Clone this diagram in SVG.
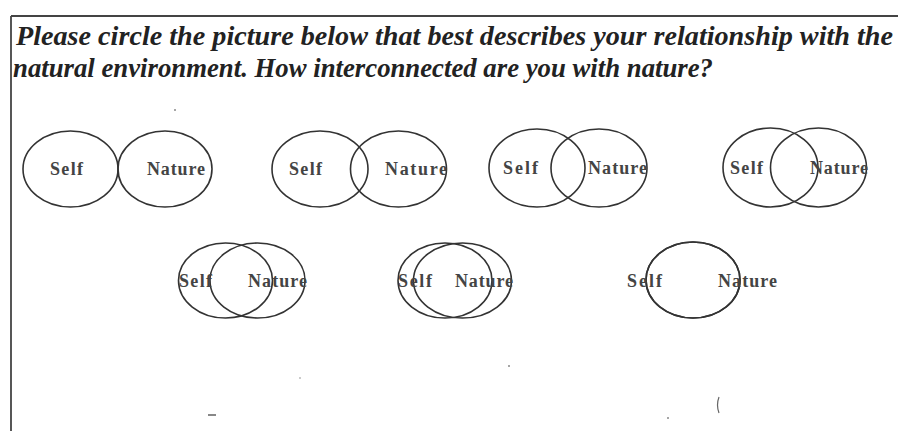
<svg xmlns="http://www.w3.org/2000/svg" width="898" height="431" viewBox="0 0 898 431">
<style>
.frame{stroke:#444;stroke-width:1.8;fill:none}
.q{font-family:"Liberation Serif","Times New Roman",serif;font-style:italic;font-weight:bold;font-size:26.5px;fill:#222}
.c{fill:none;stroke:#333;stroke-width:1.6}
.t{font-family:"Liberation Serif","Times New Roman",serif;font-weight:bold;font-size:18px;fill:#444}
.n{fill:#888}
</style>
<rect width="898" height="431" fill="#fff"/>
<g id="frame">
<line class="frame" x1="11" y1="16" x2="898" y2="16"/>
<line class="frame" x1="11" y1="16" x2="11" y2="431"/>
</g>
<g id="question">
<text class="q" x="16" y="45" textLength="877" lengthAdjust="spacingAndGlyphs">Please circle the picture below that best describes your relationship with the</text>
<text class="q" x="13" y="77" textLength="700" lengthAdjust="spacingAndGlyphs">natural environment. How interconnected are you with nature?</text>
</g>
<g id="option1">
<ellipse class="c" cx="70.5" cy="169" rx="47.5" ry="38"/>
<ellipse class="c" cx="165" cy="169" rx="47" ry="38"/>
<text class="t" x="50" y="174.5" textLength="33">Self</text>
<text class="t" x="147" y="174.5" textLength="58">Nature</text>
</g>
<g id="option2">
<ellipse class="c" cx="320" cy="169" rx="48" ry="38"/>
<ellipse class="c" cx="398.5" cy="169" rx="48" ry="38"/>
<text class="t" x="289" y="174.5" textLength="33">Self</text>
<text class="t" x="385" y="174.5" textLength="62">Nature</text>
</g>
<g id="option3">
<ellipse class="c" cx="537" cy="168" rx="48" ry="39"/>
<ellipse class="c" cx="599" cy="168" rx="48" ry="39"/>
<text class="t" x="503" y="174" textLength="35">Self</text>
<text class="t" x="588" y="174" textLength="59">Nature</text>
</g>
<g id="option4">
<ellipse class="c" cx="770.5" cy="167.5" rx="47.5" ry="39.5"/>
<ellipse class="c" cx="818.5" cy="167.5" rx="48" ry="39.5"/>
<text class="t" x="730" y="174" textLength="33">Self</text>
<text class="t" x="810" y="174" textLength="58">Nature</text>
</g>
<g id="option5">
<ellipse class="c" cx="225.5" cy="280.5" rx="47" ry="37.5"/>
<ellipse class="c" cx="257.5" cy="280.5" rx="47.5" ry="37.5"/>
<text class="t" x="179" y="286.5" textLength="33">Self</text>
<text class="t" x="248" y="286.5" textLength="59">Nature</text>
</g>
<g id="option6">
<ellipse class="c" cx="445" cy="280.5" rx="47" ry="37.5"/>
<ellipse class="c" cx="462.5" cy="280.5" rx="49" ry="37.5"/>
<text class="t" x="398" y="286.5" textLength="34">Self</text>
<text class="t" x="455" y="286.5" textLength="58">Nature</text>
</g>
<g id="option7">
<ellipse class="c" cx="693" cy="280" rx="47" ry="38"/>
<ellipse class="c" cx="693" cy="280" rx="47" ry="38"/>
<text class="t" x="627" y="286.5" textLength="35">Self</text>
<text class="t" x="718" y="286.5" textLength="59">Nature</text>
</g>
<g id="specks">
<path d="M719 397 q-3 8 0 16" fill="none" stroke="#666" stroke-width="1.2"/>
<circle class="n" cx="175" cy="110" r="1"/>
<circle class="n" cx="509" cy="366" r="1"/>
<circle class="n" cx="300" cy="378" r="0.8"/>
<rect class="n" x="208" y="414" width="8" height="2"/>
<circle class="n" cx="668" cy="418" r="1"/>
</g>
</svg>
